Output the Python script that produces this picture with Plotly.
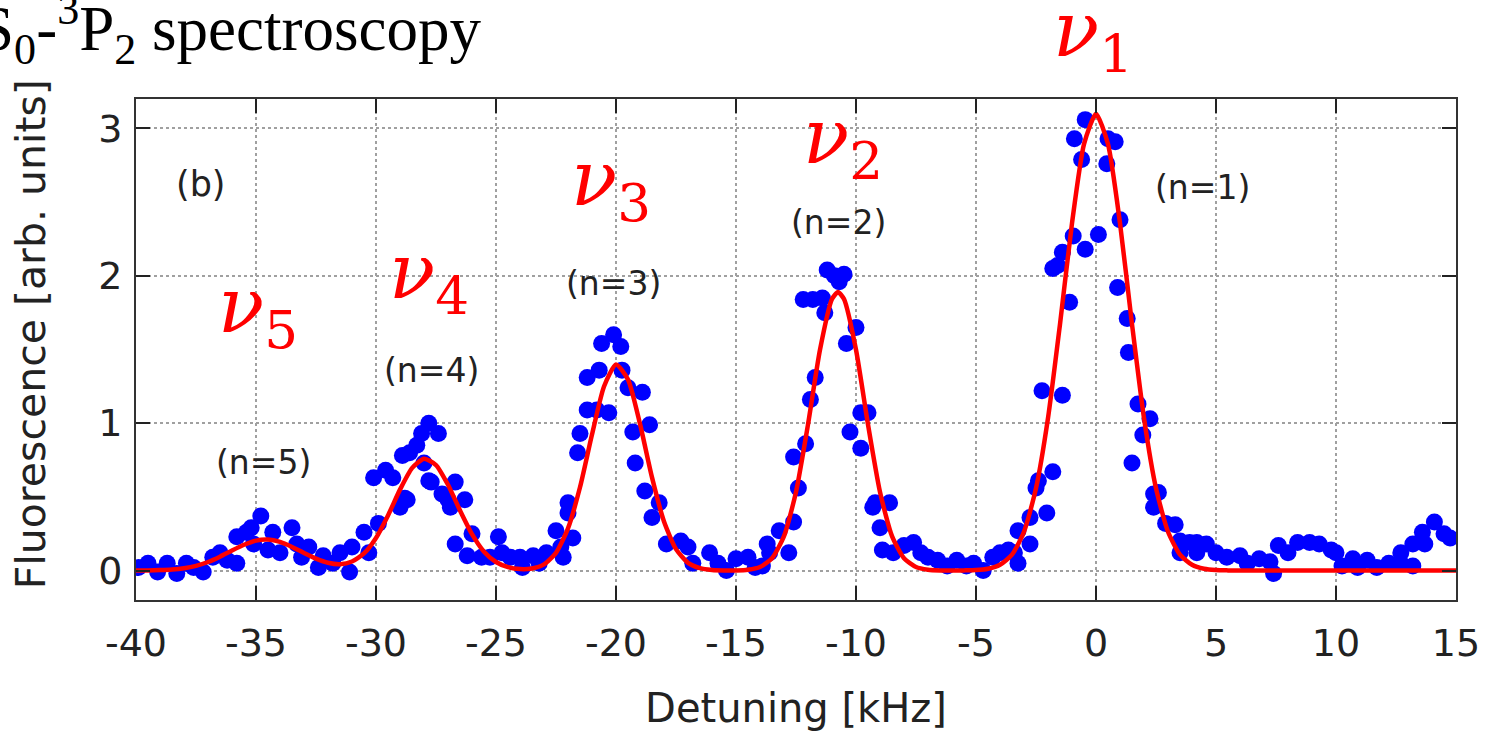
import plotly.graph_objects as go

# ---- measured data points (detuning kHz, fluorescence a.u.) ----
data_x = [
    -39.9, -39.5, -39.1, -38.7, -38.3, -37.9, -37.6, -37.2, -36.8, -36.5, -36.2, -35.8, -35.8, -35.4, -35.2,
    -35.1, -34.8, -34.5, -34.3, -34.0, -33.5, -33.3, -33.1, -32.8, -32.4, -32.2, -31.8, -31.5, -31.1, -31.0,
    -30.5, -30.3, -29.9, -30.1, -29.6, -29.3, -29.0, -28.8, -28.9, -28.6, -28.3, -28.1, -27.8, -27.8, -28.0,
    -28.7, -27.4, -27.7, -27.25, -27.0, -26.7, -26.3, -26.9, -26.7, -26.2, -26.0, -25.6, -25.25, -24.9, -24.75,
    -24.4, -24.0, -23.9, -23.45, -23.2, -22.9, -22.5, -22.3, -22.2, -22.0, -22.0, -21.8, -21.6, -21.5, -21.2,
    -20.8, -21.2, -20.7, -20.6, -20.3, -20.1, -19.8, -19.75, -19.5, -18.9, -19.3, -18.6, -19.2, -18.8, -18.5,
    -18.2, -17.9, -17.3, -17.0, -16.8,
    -16.1, -15.75, -15.4, -15.0, -14.5, -14.2, -13.9, -13.7, -13.6, -13.2, -12.8, -12.6, -12.4, -12.6, -12.1,
    -11.9, -11.7, -12.2, -11.8, -11.4, -11.3, -11.2, -10.9, -10.5, -10.7, -10.0, -10.4, -9.8, -9.5, -10.25,
    -9.8, -9.3, -9.2, -8.6, -9.0, -8.9, -8.45, -8.0, -7.6, -7.3, -7.0, -6.6, -6.2, -5.8, -5.4,
    -5.1, -4.7, -4.3, -4.0, -3.65, -3.4, -3.25, -3.25, -2.75, -2.75, -2.5, -2.4, -2.05, -1.8, -2.25,
    -1.4, -1.1, -1.8, -1.6, -1.4, -0.95, -0.45, 0.1, -0.6, -0.9, -0.45, 0.5, 0.8, 0.45, 1.0,
    0.9, 1.3, 1.35, 1.75, 2.25, 1.95, 1.5, 2.4, 2.6, 2.4, 2.9, 3.3, 3.5, 3.9, 4.2,
    4.6, 3.5, 4.2, 5.0, 5.45, 6.0, 6.3,
    6.8, 7.25, 7.4, 7.6, 8.0, 8.4, 8.9, 9.3, 9.8, 10.0, 10.25, 10.7, 10.9, 11.3, 11.7,
    12.2, 12.7, 12.7, 13.2, 13.2, 13.6, 13.7, 14.1, 14.5, 14.75,
]
data_y = [
    0.02, 0.05, -0.01, 0.05, -0.02, 0.05, 0.02, -0.01, 0.09, 0.12, 0.07, 0.05, 0.23, 0.26, 0.29,
    0.18, 0.37, 0.14, 0.26, 0.12, 0.29, 0.18, 0.09, 0.16, 0.02, 0.10, 0.05, 0.12, -0.01, 0.16,
    0.26, 0.12, 0.32, 0.63, 0.68, 0.63, 0.43, 0.49, 0.78, 0.80, 0.85, 0.93, 1.00, 0.61, 0.73,
    0.48, 0.93, 0.60, 0.52, 0.48, 0.60, 0.48, 0.43, 0.18, 0.10, 0.25, 0.09, 0.09, 0.23, 0.12,
    0.09, 0.09, 0.02, 0.10, 0.05, 0.12, 0.27, 0.16, 0.09, 0.46, 0.39, 0.22, 0.80, 0.93, 1.09,
    1.09, 1.31, 1.36, 1.54, 1.07, 1.60, 1.52, 1.36, 1.24, 1.21, 0.94, 0.99, 0.73, 0.54, 0.36,
    0.46, 0.18, 0.20, 0.16, 0.05,
    0.12, 0.05, 0.00, 0.08, 0.09, 0.02, 0.03, 0.18, 0.12, 0.27, 0.12, 0.33, 0.56, 0.77, 0.86,
    1.16, 1.31, 1.84, 1.84, 1.85, 1.75, 2.04, 2.00, 2.01, 1.96, 1.65, 1.54, 1.07, 1.07, 0.94,
    0.83, 0.43, 0.46, 0.46, 0.29, 0.14, 0.12, 0.17, 0.19, 0.12, 0.09, 0.07, 0.03, 0.07, 0.03,
    0.05, 0.00, 0.09, 0.12, 0.14, 0.12, 0.05, 0.27, 0.18, 0.36, 0.56, 0.61, 0.39, 0.67, 1.22,
    1.19, 1.82, 2.05, 2.07, 2.16, 2.27, 2.18, 2.28, 2.79, 2.93, 3.06, 2.93, 2.91, 2.76, 2.38,
    1.92, 1.71, 1.48, 1.13, 1.03, 0.92, 0.73, 0.52, 0.53, 0.43, 0.32, 0.31, 0.20, 0.19, 0.19,
    0.18, 0.12, 0.12, 0.12, 0.09, 0.10, 0.05,
    0.08, 0.06, -0.02, 0.17, 0.12, 0.19, 0.19, 0.18, 0.14, 0.12, 0.03, 0.08, 0.02, 0.07, 0.02,
    0.05, 0.05, 0.12, 0.03, 0.18, 0.26, 0.18, 0.33, 0.25, 0.22,
]

# ---- fitted curve ----
fit_x = [
    -40, -39.5, -39, -38.5, -38, -37.5, -37, -36.5, -36, -35.5, -35, -34.5, -34, -33.5, -33,
    -32.5, -32, -31.5, -31, -30.5, -30, -29.5, -29, -28.5, -28, -27.5, -27, -26.5, -26, -25.5,
    -25, -24.5, -24, -23.5, -23, -22.5, -22, -21.5, -21, -20.5, -20, -19.5, -19, -18.5, -18,
    -17.5, -17, -16.5, -16, -15.5, -15, -14.5, -14, -13.5, -13, -12.5, -12, -11.5, -11, -10.75,
    -10.5, -10, -9.5, -9, -8.5, -8, -7.5, -7, -6.5, -6, -5.5, -5, -4.5, -4, -3.5,
    -3, -2.5, -2, -1.5, -1, -0.5, 0, 0.5, 1, 1.5, 2, 2.5, 3, 3.5, 4,
    4.5, 5, 5.5, 6, 8, 10, 12, 15,
]
fit_y = [
    0.000, 0.001, 0.003, 0.007, 0.016, 0.032, 0.058, 0.094, 0.136, 0.175, 0.203, 0.210, 0.194, 0.160, 0.119,
    0.081, 0.053, 0.043, 0.061, 0.116, 0.221, 0.374, 0.549, 0.695, 0.759, 0.716, 0.582, 0.408, 0.247, 0.128,
    0.058, 0.023, 0.010, 0.014, 0.042, 0.120, 0.286, 0.565, 0.923, 1.249, 1.398, 1.297, 0.995, 0.632, 0.333,
    0.145, 0.052, 0.016, 0.004, 0.001, 0.001, 0.006, 0.024, 0.083, 0.233, 0.533, 0.991, 1.498, 1.842, 1.890,
    1.842, 1.498, 0.991, 0.533, 0.233, 0.083, 0.024, 0.006, 0.001, 0.000, 0.001, 0.003, 0.012, 0.039, 0.108,
    0.263, 0.558, 1.034, 1.672, 2.357, 2.894, 3.100, 2.894, 2.357, 1.672, 1.034, 0.558, 0.263, 0.108, 0.039,
    0.012, 0.003, 0.001, 0.000, 0.000, 0.000, 0.000, 0.000,
]

x_ticks = [-40, -35, -30, -25, -20, -15, -10, -5, 0, 5, 10, 15]
y_ticks = [0, 1, 2, 3]

# peak labels inside the plot: (x, y, subscript)
nu_labels = [(-10.55, 2.91, "2"), (-20.2, 2.62, "3"), (-27.8, 1.99, "4"), (-34.9, 1.76, "5")]
# nu_1 sits above the frame -> paper coordinates
nu1_label = (0.725, 1.128, "1")
n_labels = [(4.45, 2.6, "(n=1)"), (-10.75, 2.36, "(n=2)"), (-20.1, 1.95, "(n=3)"), (-27.7, 1.36, "(n=4)"), (-34.7, 0.73, "(n=5)")]

SANS = "DejaVu Sans"
SERIF = "Liberation Serif"
NUFONT = "DejaVu Serif"
TXT = "#222222"

fig = go.Figure()
fig.add_trace(go.Scatter(
    x=data_x, y=data_y, mode="markers",
    marker=dict(color="#0000FF", size=17, line=dict(width=0)),
    cliponaxis=True, showlegend=False,
))
fig.add_trace(go.Scatter(
    x=fit_x, y=fit_y, mode="lines",
    line=dict(color="#FF0000", width=4.5, shape="spline", smoothing=0.6),
    showlegend=False,
))

axis_common = dict(
    showline=True, linecolor="#333333", linewidth=2, mirror="allticks",
    ticks="inside", ticklen=14, tickwidth=2, tickcolor="#222222",
    showgrid=True, gridcolor="#a0a0a0", gridwidth=1.5, griddash="dot",
    zeroline=False, automargin=False,
    tickfont=dict(family=SANS, size=38, color=TXT),
)

fig.update_layout(
    width=1487, height=731,
    margin=dict(l=136, r=31, t=99, b=131),
    paper_bgcolor="white", plot_bgcolor="white",
    xaxis=dict(range=[-40, 15], tickvals=x_ticks, ticktext=[str(v) for v in x_ticks],
               ticklabelstandoff=8,
               title=dict(text="Detuning [kHz]", font=dict(family=SANS, size=40, color=TXT), standoff=32),
               **axis_common),
    yaxis=dict(range=[-0.2, 3.2], tickvals=y_ticks, ticktext=[str(v) for v in y_ticks],
               ticklabelstandoff=4,
               **axis_common),
)

nu_font = dict(family=NUFONT, size=76, color="#FF0000")
annotations = []
for x, y, d in nu_labels:
    annotations.append(dict(
        x=x, y=y, xref="x", yref="y", xanchor="center", yanchor="middle",
        text="<i>ν</i><sub>" + d + "</sub>", showarrow=False, font=nu_font,
    ))
annotations.append(dict(
    x=nu1_label[0], y=nu1_label[1], xref="paper", yref="paper", xanchor="center", yanchor="middle",
    text="<i>ν</i><sub>" + nu1_label[2] + "</sub>", showarrow=False, font=nu_font,
))
for x, y, t in n_labels:
    annotations.append(dict(
        x=x, y=y, xref="x", yref="y", xanchor="center", yanchor="middle",
        text=t, showarrow=False,
        font=dict(family=SANS, size=33, color=TXT),
    ))
annotations.append(dict(
    x=-37.3, y=2.62, xref="x", yref="y", xanchor="center", yanchor="middle",
    text="(b)", showarrow=False, font=dict(family=SANS, size=35, color=TXT),
))
# y-axis title
annotations.append(dict(
    x=-0.079, y=0.53, xref="paper", yref="paper", xanchor="center", yanchor="middle",
    text="Fluorescence [arb. units]", textangle=-90, showarrow=False,
    font=dict(family=SANS, size=41, color=TXT),
))
# slide title (cut at the left edge, as in the source)
annotations.append(dict(
    x=0.263, y=1.138, xref="paper", yref="paper", xanchor="right", yanchor="middle",
    text="<sup>1</sup>S<sub>0</sub>-<sup>3</sup>P<sub>2</sub> spectroscopy", showarrow=False,
    font=dict(family=SERIF, size=63, color="#000000"),
))
fig.update_layout(annotations=annotations)

fig.write_html("out.html")
